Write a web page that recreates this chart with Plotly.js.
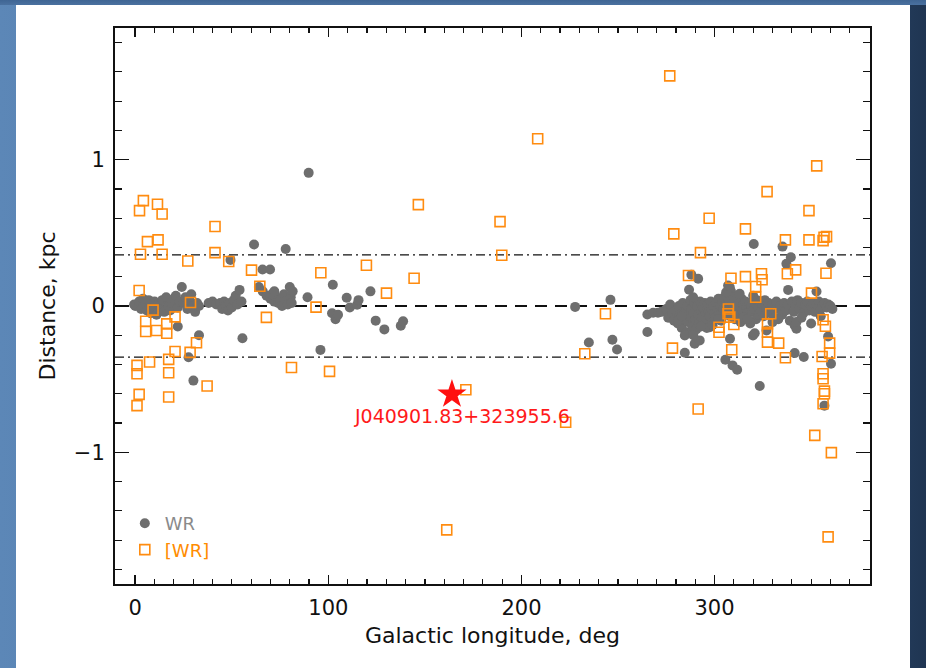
<!DOCTYPE html>
<html>
<head>
<meta charset="utf-8">
<script src="https://cdn.plot.ly/plotly-3.0.1.min.js"></script>
<style>
html,body{margin:0;padding:0;width:926px;height:668px;overflow:hidden;}
body{background:linear-gradient(90deg,#5c87b7 0%,#4d75a4 40%,#3a5d8a 80%,#1f3552 100%);position:relative;}
#panel{position:absolute;left:0;top:0;width:926px;height:668px;
 background:linear-gradient(180deg,#3f6593 0px,#4a71a0 5px,transparent 5px);}
#chart{position:absolute;left:16px;top:5px;width:894px;height:663px;background:#fff;}
</style>
</head>
<body>
<div id="panel"></div>
<div id="chart"></div>
<script>
// Galactic WR stars (filled grey circles)
var wrLon = [
 0,-0.6,2,3,4,5,6,7,8,9,10,11,12,13,14,15,16,17,18,19,20,21,22,23,24.1,25,26,27,28,29,30,31,32,33,
 22,33,27.6,30.1,
 38,40,42,44,45,46,47,48,49,50,51,52,53,54,55,49.3,55.5,
 61.5,65.9,69.8,77.9,64,66,68,70,72,73,74,75,76,77,78,79,80,80.5,81,81.5,70.7,72,
 89.2,89.8,102.3,95.9,101.9,103.7,105,109.5,111.1,114.9,115.6,121.8,124.5,129,137.5,138.7,
 227.8,234.9,246.1,247.1,249.5,265.2,265.2,268.2,270.7,
 272.5,275,276,277,278,279,280,281,281.5,282,283,283.5,284,285,285.5,286,286.5,287,287.5,288,288.5,289,289.5,290,290.5,
 291,291.5,292,292.5,293,293.5,294,294.5,295,295.5,296,296.5,297,297.5,298,298.5,299,299.5,300,300.5,301,301.5,302,302.5,
 303,303.5,304,304.5,305,305.5,306,306.5,307,307.5,308,308.5,309,309.5,310,310.5,311,311.5,312,312.5,313,313.5,314,314.5,
 315,315.5,316,316.5,317,318,318.5,319,319.5,320,320.5,321,321.5,322,322.5,323,323.5,324,325,325.5,326,327,328,329,330,
 331,332,333,334,335,336,337,338,339,340,341,342,343,344,345,346,347,348,349,350,351,352,353,354,355,356,357,358,359,360,361,
 284.6,289.7,292.3,284.6,305.6,309.3,311.7,319.9,320.8,323.4,341.5,342.4,341.5,346.2,358.8,360.3,356.9,
 338.1,352.8,307.9,286.8,288.9,288,291.5,320.3,335.2,339.5,337.2,360.3,306,313,307,297.5,289,308,326.9,342.4,
 281.1,283,296,299,302,315,318,330,333,345,350,355,293,310,317
];
var wrDist = [
 0.0,0.01,0.03,-0.02,0.05,0.02,-0.03,0.04,-0.05,0.0,0.03,-0.06,0.01,-0.02,0.04,-0.04,0.06,0.0,-0.03,0.02,0.05,0.07,-0.01,0.03,0.13,0.02,0.06,-0.02,0.04,0.08,0.0,-0.04,0.02,0.0,
 -0.14,-0.2,-0.35,-0.51,
 0.02,0.03,0.01,0.02,-0.02,0.03,0.0,-0.03,0.02,-0.01,0.04,0.07,0.01,0.11,0.03,0.315,-0.22,
 0.42,0.25,0.25,0.39,0.13,0.1,0.07,0.05,0.03,0.06,0.02,0.04,0.0,0.08,0.03,0.01,0.13,0.06,0.02,0.1,0.08,0.1,
 0.06,0.91,0.145,-0.3,-0.05,-0.09,-0.06,0.056,-0.01,0.008,0.04,0.1,-0.1,-0.16,-0.135,-0.104,
 -0.006,-0.249,0.042,-0.231,-0.297,-0.058,-0.178,-0.046,-0.046,
 -0.04,-0.02,-0.08,0.01,-0.05,-0.1,-0.03,-0.12,0.0,-0.06,-0.15,0.02,-0.09,-0.04,-0.18,0.0,-0.11,-0.07,0.04,-0.02,-0.14,-0.05,0.02,-0.09,-0.16,
 0.0,-0.06,-0.12,0.03,-0.03,-0.08,-0.01,-0.13,0.02,-0.05,-0.1,0.01,-0.04,-0.07,0.03,-0.02,-0.11,0.0,-0.05,-0.08,0.02,-0.03,0.05,-0.06,
 0.0,-0.1,0.03,-0.02,0.06,-0.05,0.01,0.08,-0.03,0.04,-0.07,0.1,0.02,-0.04,0.06,-0.09,0.0,0.04,-0.02,-0.06,0.02,-0.11,0.05,-0.03,
 0.01,-0.08,0.03,-0.01,-0.05,0.02,-0.12,0.0,-0.04,0.07,-0.02,0.02,-0.09,0.04,-0.01,-0.06,0.03,-0.03,0.01,-0.07,0.04,-0.02,0.02,-0.05,0.01,
 -0.08,0.03,-0.02,0.0,-0.06,0.02,-0.03,0.01,-0.1,0.03,-0.04,0.0,0.04,-0.02,0.02,-0.05,0.01,0.03,-0.03,0.0,0.02,-0.04,0.01,0.03,-0.02,0.0,0.02,-0.01,0.01,0.0,-0.02,
 -0.201,-0.258,-0.235,-0.32,-0.367,-0.406,-0.436,-0.201,-0.186,-0.547,-0.133,-0.156,-0.322,-0.349,-0.208,-0.395,-0.681,
 0.11,0.099,0.128,0.111,0.06,0.213,0.186,0.424,0.406,0.333,0.288,0.292,0.094,0.083,0.14,-0.145,-0.2,-0.224,-0.167,-0.11,
 -0.1,-0.07,-0.15,-0.13,-0.09,-0.08,-0.1,-0.11,-0.09,-0.08,-0.12,-0.07,-0.14,-0.06,-0.09
];

// [WR] central stars of planetary nebulae (open orange squares)
var wrcLon = [
 2.2,4.2,11.5,13.9,6.3,11.8,2.7,13.9,41.3,41.3,27.2,48.4,60.2,64.5,2.0,9.2,28.6,67.9,5.4,5.4,11.0,16.3,16.3,20.6,20.6,
 7.4,17.3,31.7,28.4,0.9,0.9,17.3,2.0,0.9,17.3,37.2,80.9,
 93.6,96.1,100.6,119.7,130.1,144.4,146.6,161.3,171.2,188.9,189.8,208.4,222.9,232.8,243.5,
 276.8,327.2,348.9,297.2,316.0,278.9,336.7,348.9,356.7,358,356.2,292.7,286.5,308.5,316.0,324.3,324.6,321.3,321.3,337.7,342,
 357.7,350.2,307.2,307.9,310,307,302.3,302.3,308.9,278.2,329.1,327.4,327.4,327.4,333.2,336.7,356.2,357.4,359.6,359.6,355.7,
 356.2,356.2,356.9,356.9,356.2,291.5,351.9,360.5,358.8,352.9
];
var wrcDist = [
 0.652,0.72,0.695,0.629,0.44,0.452,0.354,0.354,0.543,0.365,0.308,0.304,0.245,0.135,0.106,-0.028,0.024,-0.078,-0.104,-0.174,-0.167,-0.122,-0.186,-0.074,-0.311,
 -0.383,-0.365,-0.251,-0.317,-0.406,-0.463,-0.456,-0.604,-0.681,-0.622,-0.547,-0.42,
 -0.008,0.227,-0.447,0.279,0.088,0.19,0.693,-1.53,-0.572,0.577,0.347,1.143,-0.795,-0.326,-0.053,
 1.573,0.782,0.652,0.6,0.527,0.493,0.452,0.452,0.47,0.474,0.447,0.365,0.208,0.19,0.201,0.22,0.179,0.133,0.06,0.22,0.247,
 0.224,0.088,-0.02,-0.076,-0.126,-0.053,-0.145,-0.179,-0.299,-0.288,-0.053,-0.122,-0.179,-0.247,-0.254,-0.354,-0.094,-0.138,-0.254,-0.322,-0.345,
 -0.463,-0.497,-0.582,-0.6,-0.668,-0.704,-0.884,-1.002,-1.578,0.958
];

// highlighted object
var starLon = [164];
var starDist = [-0.604];
var starName = "J040901.83+323955.6";
var labelLon = [169];
var labelDist = [-0.755];

// reference lines (kpc)
var zeroLine = [0];
var bandLines = [0.35, -0.35];

var xTicks = [0, 100, 200, 300];
var yTicks = [-1, 0, 1];

var FONT = "DejaVu Sans, sans-serif";

var traces = [
 {x: wrLon, y: wrDist, type: 'scatter', mode: 'markers', name: '<span style="color:#8a8a8a">WR</span>',
  marker: {symbol: 'circle', size: 10, color: '#6e6e6e'}},
 {x: wrcLon, y: wrcDist, type: 'scatter', mode: 'markers', name: '<span style="color:#ff8c00">[WR]</span>',
  marker: {symbol: 'square-open', size: 10, color: '#ff8c10', line: {width: 1.6}}},
 {x: starLon, y: starDist, type: 'scatter', mode: 'markers', showlegend: false,
  marker: {symbol: 'star', size: 22, color: '#ff1010', line: {width: 0}}}
];

var shapes = [];
zeroLine.forEach(function (v) {
  shapes.push({type: 'line', xref: 'paper', x0: 0, x1: 1, yref: 'y', y0: v, y1: v,
    line: {color: '#111', width: 2.2, dash: '12px,8px'}, layer: 'below'});
});
bandLines.forEach(function (v) {
  shapes.push({type: 'line', xref: 'paper', x0: 0, x1: 1, yref: 'y', y0: v, y1: v,
    line: {color: '#111', width: 1.3, dash: '9px,4px,2px,4px'}, layer: 'below'});
});

var layout = {
  width: 894, height: 663,
  margin: {l: 99, r: 40, t: 23, b: 84},
  paper_bgcolor: '#ffffff', plot_bgcolor: '#ffffff',
  font: {family: FONT, color: '#111'},
  showlegend: true,
  legend: {x: 0.013, y: 0.142, xanchor: 'left', yanchor: 'top', bgcolor: 'rgba(0,0,0,0)',
    font: {family: FONT, size: 18, color: '#888'}, itemwidth: 30, tracegroupgap: 0},
  xaxis: {range: [-10.5, 380.5], tickmode: 'array', tickvals: xTicks, ticktext: xTicks.map(String),
    ticks: 'inside', ticklen: 9, tickwidth: 1.6, tickcolor: '#111',
    minor: {dtick: 10, tick0: 0, ticks: 'inside', ticklen: 5, tickwidth: 1.2, tickcolor: '#111'},
    showline: true, linecolor: '#111', linewidth: 2, mirror: 'ticks', showgrid: false, zeroline: false,
    tickfont: {family: FONT, size: 21, color: '#111'}, ticklabelstandoff: 4,
    title: {text: 'Galactic longitude, deg', font: {family: FONT, size: 22, color: '#111'}, standoff: 8}},
  yaxis: {range: [-1.9, 1.9], tickmode: 'array', tickvals: yTicks, ticktext: ['\u22121', '0', '1'],
    ticks: 'inside', ticklen: 14, tickwidth: 1.6, tickcolor: '#111',
    minor: {dtick: 0.2, tick0: 0, ticks: 'inside', ticklen: 7, tickwidth: 1.2, tickcolor: '#111'},
    showline: true, linecolor: '#111', linewidth: 2, mirror: 'ticks', showgrid: false, zeroline: false,
    tickfont: {family: FONT, size: 21, color: '#111'}, ticklabelstandoff: 4,
    title: {text: 'Distance, kpc', font: {family: FONT, size: 22, color: '#111'}, standoff: 12}},
  shapes: shapes,
  annotations: [{x: labelLon[0], y: labelDist[0], xref: 'x', yref: 'y', text: starName, showarrow: false,
    font: {family: FONT, size: 19, color: '#ff1a1a'}}]
};

Plotly.newPlot('chart', traces, layout, {displayModeBar: false, staticPlot: true});
</script>
</body>
</html>
